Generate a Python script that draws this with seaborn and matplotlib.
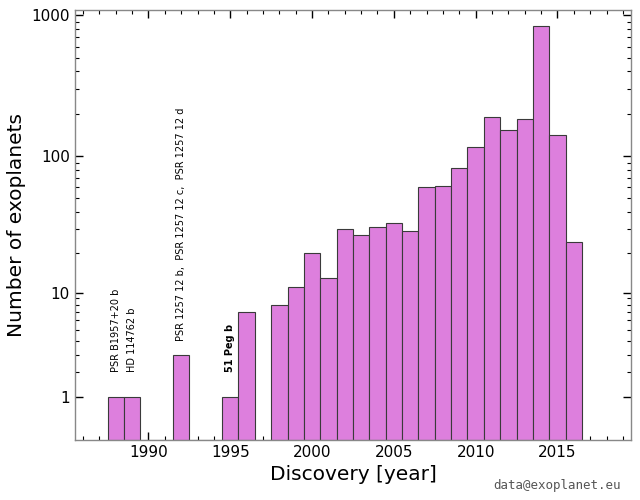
import numpy as np
import pandas as pd
import matplotlib
matplotlib.use('Agg')
import matplotlib.pyplot as plt
import matplotlib.ticker as mticker
import seaborn as sns

# Discoveries per year
years = [1988, 1989, 1992, 1995, 1996, 1998, 1999, 2000, 2001, 2002, 2003,
         2004, 2005, 2006, 2007, 2008, 2009, 2010, 2011, 2012, 2013, 2014,
         2015, 2016]
counts = [1, 1, 3, 1, 7, 8, 11, 20, 13, 30, 27, 31, 33, 29, 60, 61, 82, 116,
          189, 153, 185, 835, 142, 24]

# Named early planets
label_years = [1988, 1989, 1992, 1995]
label_texts = ['PSR B1957+20 b', 'HD 114762 b',
               'PSR 1257 12 b,  PSR 1257 12 c,  PSR 1257 12 d', '51 Peg b']
label_bold = [False, False, False, True]

df = pd.DataFrame({'year': years, 'count': counts})

sns.set_style('ticks')
plt.rcParams['font.family'] = ['DejaVu Sans']
plt.rcParams['text.color'] = 'black'
plt.rcParams['axes.labelcolor'] = 'black'
plt.rcParams['xtick.labelcolor'] = 'black'
plt.rcParams['ytick.labelcolor'] = 'black'

fig = plt.figure(figsize=(6.4, 5), dpi=100)
ax = fig.add_axes([0.117, 0.12, 0.869, 0.86])

sns.histplot(data=df, x='year', weights='count', discrete=True, ax=ax,
             color='#dd7fdd', edgecolor='#3a3a3a', linewidth=0.8, alpha=1)

# y axis is log10(1 + N)
ax.set_yscale('function', functions=(lambda y: np.log10(1 + np.clip(y, 0, None)),
                                     lambda y: 10 ** y - 1))
ax.set_ylim(0, 1088)
ax.set_xlim(1985.5, 2019.5)

ax.yaxis.set_major_locator(mticker.FixedLocator([1, 10, 100, 1000]))
ax.yaxis.set_major_formatter(mticker.FixedFormatter(['1', '10', '100', '1000']))
minor = [m * d for d in [1, 10, 100] for m in range(2, 10)]
ax.yaxis.set_minor_locator(mticker.FixedLocator(minor))
ax.xaxis.set_major_locator(mticker.MultipleLocator(5))
ax.xaxis.set_minor_locator(mticker.MultipleLocator(1))

ax.tick_params(which='both', direction='in', top=True, right=True,
               color='black', labelcolor='black', labelsize=11)
ax.tick_params(which='major', length=6, width=1)
ax.tick_params(which='minor', length=3, width=0.8)
for s in ax.spines.values():
    s.set_color('#888888')
    s.set_linewidth(1)

ax.set_xlabel('Discovery [year]', fontsize=14.5, color='black')
ax.set_ylabel('Number of exoplanets', fontsize=14.5, color='black')

cnt = dict(zip(years, counts))
for yr, txt, bold in zip(label_years, label_texts, label_bold):
    ax.text(yr, cnt[yr] + 1, txt, rotation=90, ha='center', va='bottom',
            fontsize=7, color='black', fontweight='bold' if bold else 'normal')

fig.text(0.97, 0.03, 'data@exoplanet.eu', family='DejaVu Sans Mono',
         fontsize=9, color='#555555', ha='right', va='center')

fig.savefig('out.png', dpi=100)
